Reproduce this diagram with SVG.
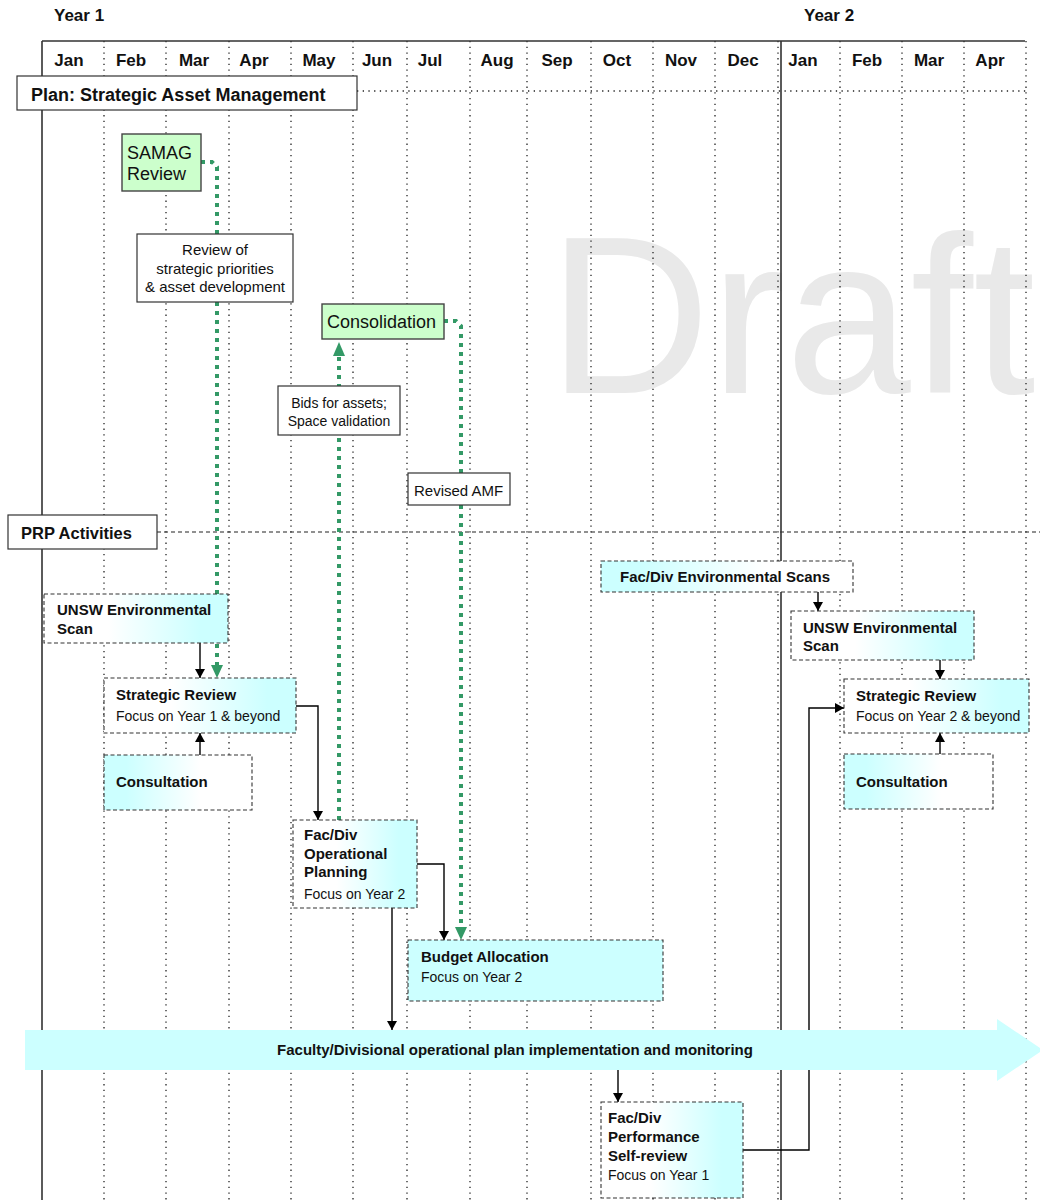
<svg xmlns="http://www.w3.org/2000/svg" width="1040" height="1200" viewBox="0 0 1040 1200">
<style>
text{font-family:"Liberation Sans",Arial,sans-serif;fill:#111}
.yr{font-size:17px;font-weight:bold}
.mo{font-size:17px;font-weight:bold;text-anchor:middle}
.hd{font-size:18px;font-weight:bold}
.b{font-size:15px;font-weight:bold}
.n{font-size:14px}
.g{font-size:18px}
.lbl{font-size:15px}
.grid{stroke:#222;stroke-width:1.3;stroke-dasharray:1.3 4.4;fill:none}
.solid{stroke:#333;stroke-width:1.6;fill:none}
.dbox{stroke:#333;stroke-width:1.1;stroke-dasharray:4 2.5}
.gbox{fill:#ccffcc;stroke:#444;stroke-width:1.4}
.wbox{fill:#fff;stroke:#333;stroke-width:1.2}
.conn{stroke:#000;stroke-width:1.4;fill:none;marker-end:url(#ah)}
.gconn{stroke:#339966;stroke-width:4;stroke-dasharray:4 5;fill:none}
.ghead{fill:#339966}
</style>
<defs>
<marker id="ah" markerWidth="9" markerHeight="10" refX="9" refY="5" orient="auto" markerUnits="userSpaceOnUse">
<path d="M0,0 L9,5 L0,10 z" fill="#000"/>
</marker>
<linearGradient id="gR" x1="0" y1="0" x2="1" y2="0">
<stop offset="0" stop-color="#ffffff"/>
<stop offset="0.35" stop-color="#ffffff"/>
<stop offset="0.85" stop-color="#ccffff"/>
<stop offset="1" stop-color="#ccffff"/>
</linearGradient>
<linearGradient id="gL" x1="0" y1="0" x2="1" y2="0">
<stop offset="0" stop-color="#ccffff"/>
<stop offset="0.15" stop-color="#ccffff"/>
<stop offset="0.65" stop-color="#ffffff"/>
<stop offset="1" stop-color="#ffffff"/>
</linearGradient>
</defs>

<rect width="1040" height="1200" fill="#fff"/>

<g id="watermark">
<text x="548" y="393" style="font-size:225px;fill:#e9e9e9">Draft</text>
</g>

<g id="grid">
<path class="grid" d="M104,41V1200M166,41V1200M229,41V1200M291,41V1200M353,41V1200M407,41V1200M470,41V1200M527,41V1200M591,41V1200M653,41V1200M715,41V1200M778,41V1200M840,41V1200M902,41V1200M964,41V1200M1026,41V1200"/>
<path class="grid" d="M357,91H1026"/>
<path d="M157,532H1040" stroke="#222" stroke-width="1.1" stroke-dasharray="4 3" fill="none"/>
<path class="solid" d="M42,41V1200M42,41H1025M781,41V1200"/>
</g>

<g id="header">
<text class="yr" x="54" y="21">Year 1</text>
<text class="yr" x="804" y="21">Year 2</text>
<text class="mo" x="69" y="66">Jan</text>
<text class="mo" x="131" y="66">Feb</text>
<text class="mo" x="194" y="66">Mar</text>
<text class="mo" x="254" y="66">Apr</text>
<text class="mo" x="319" y="66">May</text>
<text class="mo" x="377" y="66">Jun</text>
<text class="mo" x="430" y="66">Jul</text>
<text class="mo" x="497" y="66">Aug</text>
<text class="mo" x="557" y="66">Sep</text>
<text class="mo" x="617" y="66">Oct</text>
<text class="mo" x="681" y="66">Nov</text>
<text class="mo" x="743" y="66">Dec</text>
<text class="mo" x="803" y="66">Jan</text>
<text class="mo" x="867" y="66">Feb</text>
<text class="mo" x="929" y="66">Mar</text>
<text class="mo" x="990" y="66">Apr</text>
</g>

<g id="plan-label">
<rect class="wbox" x="17" y="76" width="340" height="34"/>
<text class="hd" x="31" y="101">Plan: Strategic Asset Management</text>
</g>
<g id="prp-label">
<rect class="wbox" x="8" y="515" width="149" height="34"/>
<text class="hd" x="21" y="539" style="font-size:16.5px">PRP Activities</text>
</g>

<g id="connectors">
<path class="gconn" d="M201,162H212L217,167V666"/>
<polygon class="ghead" points="211,665 223,665 217,678"/>
<path class="gconn" d="M339,820V354"/>
<polygon class="ghead" points="333,356 345,356 339,342"/>
<path class="gconn" d="M444,321H456L461,326V928"/>
<polygon class="ghead" points="455,927 467,927 461,940"/>
<path class="conn" d="M200,643V678"/>
<path class="conn" d="M200,755V733"/>
<path class="conn" d="M296,706H318V820"/>
<path class="conn" d="M417,864H444V940"/>
<path class="conn" d="M392,908V1030"/>
<path class="conn" d="M618,1070V1102"/>
<path class="conn" d="M743,1150H809V708H844"/>
<path class="conn" d="M818,592V611"/>
<path class="conn" d="M940,660V679"/>
<path class="conn" d="M940,754V733"/>
</g>

<g id="label-review">
<rect class="wbox" x="137" y="234" width="156" height="68"/>
<text class="lbl" x="215" y="255" text-anchor="middle">Review of</text>
<text class="lbl" x="215" y="274" text-anchor="middle">strategic priorities</text>
<text class="lbl" x="215" y="292" text-anchor="middle">&amp; asset development</text>
</g>
<g id="label-bids">
<rect class="wbox" x="278" y="386" width="122" height="49"/>
<text x="339" y="408" text-anchor="middle" style="font-size:14px">Bids for assets;</text>
<text x="339" y="426" text-anchor="middle" style="font-size:14px">Space validation</text>
</g>
<g id="label-amf">
<rect class="wbox" x="408" y="473" width="102" height="32"/>
<text class="lbl" x="414" y="496">Revised AMF</text>
</g>

<g id="samag-review">
<rect class="gbox" x="122" y="134" width="79" height="57"/>
<text class="g" x="127" y="159">SAMAG</text>
<text class="g" x="127" y="180">Review</text>
</g>
<g id="consolidation">
<rect class="gbox" x="322" y="304" width="122" height="35"/>
<text class="g" x="327" y="328">Consolidation</text>
</g>

<g id="unsw-scan-1">
<rect class="dbox" x="44" y="594" width="184" height="49" fill="url(#gR)"/>
<text class="b" x="57" y="615">UNSW Environmental</text>
<text class="b" x="57" y="634">Scan</text>
</g>
<g id="strategic-review-1">
<rect class="dbox" x="104" y="678" width="192" height="55" fill="url(#gR)"/>
<text class="b" x="116" y="700">Strategic Review</text>
<text class="n" x="116" y="721">Focus on Year 1 &amp; beyond</text>
</g>
<g id="consultation-1">
<rect class="dbox" x="104" y="755" width="148" height="55" fill="url(#gL)"/>
<text class="b" x="116" y="787">Consultation</text>
</g>
<g id="op-planning">
<rect class="dbox" x="293" y="820" width="124" height="88" fill="url(#gR)"/>
<text class="b" x="304" y="840">Fac/Div</text>
<text class="b" x="304" y="859">Operational</text>
<text class="b" x="304" y="877">Planning</text>
<text class="n" x="304" y="899">Focus on Year 2</text>
</g>
<g id="budget-allocation">
<rect class="dbox" x="408" y="940" width="255" height="61" fill="#ccffff"/>
<text class="b" x="421" y="962">Budget Allocation</text>
<text class="n" x="421" y="982">Focus on Year 2</text>
</g>
<g id="perf-self-review">
<rect class="dbox" x="601" y="1102" width="142" height="96" fill="url(#gR)"/>
<text class="b" x="608" y="1123">Fac/Div</text>
<text class="b" x="608" y="1142">Performance</text>
<text class="b" x="608" y="1161">Self-review</text>
<text class="n" x="608" y="1180">Focus on Year 1</text>
</g>
<g id="facdiv-scans">
<rect class="dbox" x="601" y="561" width="252" height="31" fill="url(#gL)"/>
<text class="b" x="620" y="582">Fac/Div Environmental Scans</text>
</g>
<g id="unsw-scan-2">
<rect class="dbox" x="791" y="611" width="183" height="49" fill="url(#gR)"/>
<text class="b" x="803" y="633">UNSW Environmental</text>
<text class="b" x="803" y="651">Scan</text>
</g>
<g id="strategic-review-2">
<rect class="dbox" x="844" y="679" width="185" height="54" fill="url(#gR)"/>
<text class="b" x="856" y="701">Strategic Review</text>
<text class="n" x="856" y="721">Focus on Year 2 &amp; beyond</text>
</g>
<g id="consultation-2">
<rect class="dbox" x="844" y="754" width="149" height="55" fill="url(#gL)"/>
<text class="b" x="856" y="787">Consultation</text>
</g>

<g id="implementation-arrow">
<polygon points="25,1030 997,1030 997,1019 1043,1050 997,1081 997,1070 25,1070" fill="#ccffff"/>
<text class="b" x="515" y="1055" text-anchor="middle">Faculty/Divisional operational plan implementation and monitoring</text>
</g>
</svg>
